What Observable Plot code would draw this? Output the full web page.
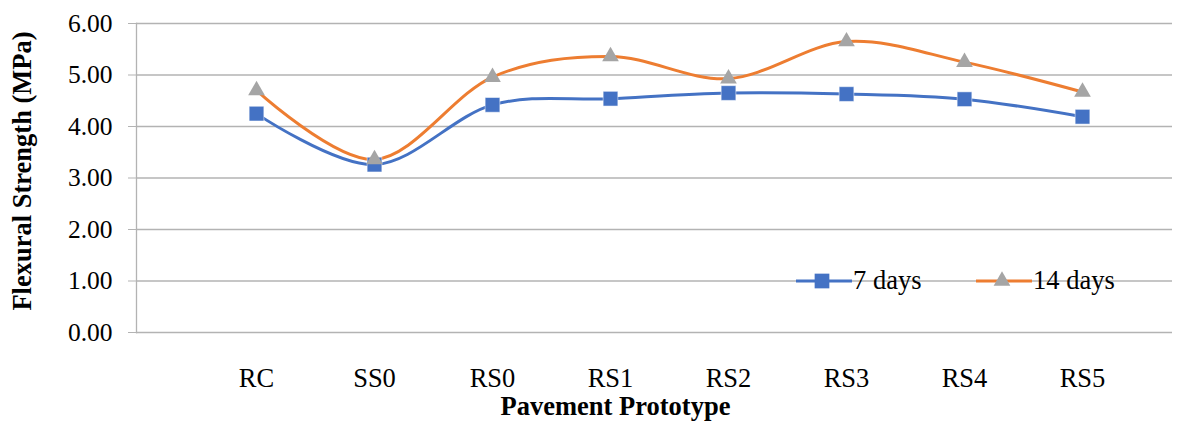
<!DOCTYPE html>
<html>
<head>
<meta charset="utf-8">
<script src="https://cdn.jsdelivr.net/npm/d3@7"></script>
<script src="https://cdn.jsdelivr.net/npm/@observablehq/plot@0.6"></script>
<style>
  html, body { margin: 0; padding: 0; background: #fff; }
  #wrap { position: relative; width: 1198px; height: 424px; }
  .leg { position: absolute; top: 265px; font-family: "Liberation Serif", "Times New Roman", serif; font-size: 26.5px; color: #000; display: flex; align-items: center; }
  .leg svg { display: block; }
</style>
</head>
<body>
<div id="wrap"></div>
<script>
const categories = ["RC", "SS0", "RS0", "RS1", "RS2", "RS3", "RS4", "RS5"];
const days7 = [4.25, 3.26, 4.42, 4.54, 4.65, 4.63, 4.53, 4.19];
const days14 = [4.70, 3.36, 4.96, 5.36, 4.93, 5.65, 5.25, 4.67];
const yTicks = [0, 1, 2, 3, 4, 5, 6];
const seriesNames = ["7 days", "14 days"];

const blue = "#4472C4", orange = "#ED7D31", grey = "#A5A5A5";
const data7 = categories.map((c, i) => ({cat: c, v: days7[i]}));
const data14 = categories.map((c, i) => ({cat: c, v: days14[i]}));

const font = '"Liberation Serif", "Times New Roman", serif';

const chart = Plot.plot({
  width: 1198,
  height: 424,
  marginLeft: 136,
  marginRight: 26,
  marginTop: 23,
  marginBottom: 92,
  style: {fontFamily: font, fontSize: "25.5px", color: "#000", background: "#fff"},
  x: {type: "point", domain: categories, range: [254, 1083], padding: 0, label: null},
  y: {domain: [0, 6], label: null},
  marks: [
    Plot.ruleY(yTicks, {stroke: "#b3b3b3", strokeWidth: 1.3}),
    Plot.frame({anchor: "left", stroke: "#b3b3b3", strokeWidth: 1.3}),
    Plot.axisY({ticks: yTicks, tickFormat: d3.format(".2f"), tickSize: 8, tickPadding: 16, stroke: "#b3b3b3", label: null, fill: "#000"}),
    Plot.axisX({tickSize: 0, tickPadding: 36, label: null, fill: "#000", fontSize: 26.5}),
    Plot.line(data7, {x: "cat", y: "v", stroke: blue, strokeWidth: 3, curve: "cardinal"}),
    Plot.line(data14, {x: "cat", y: "v", stroke: orange, strokeWidth: 3, curve: "cardinal"}),
    Plot.dot(data7, {x: "cat", y: "v", symbol: "square", r: 8.3, fill: blue, stroke: "#fff", strokeWidth: 0.5}),
    Plot.dot(data14, {x: "cat", y: "v", symbol: "triangle", r: 6.2, fill: grey, stroke: "none"}),
    Plot.text(["Pavement Prototype"], {frameAnchor: "bottom", textAnchor: "middle", dx: -39, dy: 82, fontWeight: "bold", fontSize: 26.5, fill: "#000"}),
    Plot.text(["Flexural Strength (MPa)"], {frameAnchor: "left", textAnchor: "middle", rotate: -90, dx: -114, dy: -7, fontWeight: "bold", fontSize: 26.5, fill: "#000"})
  ]
});

const wrap = document.getElementById("wrap");
wrap.appendChild(chart);

// Legend
function legendItem(left, name, color, symbolType, symColor) {
  const div = document.createElement("div");
  div.className = "leg";
  div.style.left = left + "px";
  const svg = d3.create("svg").attr("width", 56).attr("height", 28);
  svg.append("line").attr("x1", 0).attr("x2", 56).attr("y1", 14).attr("y2", 14).attr("stroke", color).attr("stroke-width", 3);
  const sym = symbolType === "square" ? d3.symbolSquare : d3.symbolTriangle;
  const size = symbolType === "square" ? Math.PI * 8.3 * 8.3 : Math.PI * 6.2 * 6.2;
  svg.append("path").attr("d", d3.symbol(sym, size)()).attr("transform", "translate(26,14)").attr("fill", symColor);
  div.appendChild(svg.node());
  const span = document.createElement("span");
  span.textContent = name;
  span.style.marginLeft = "1px";
  div.appendChild(span);
  wrap.appendChild(div);
}
legendItem(796, seriesNames[0], blue, "square", blue);
legendItem(976, seriesNames[1], orange, "triangle", grey);
</script>
</body>
</html>
